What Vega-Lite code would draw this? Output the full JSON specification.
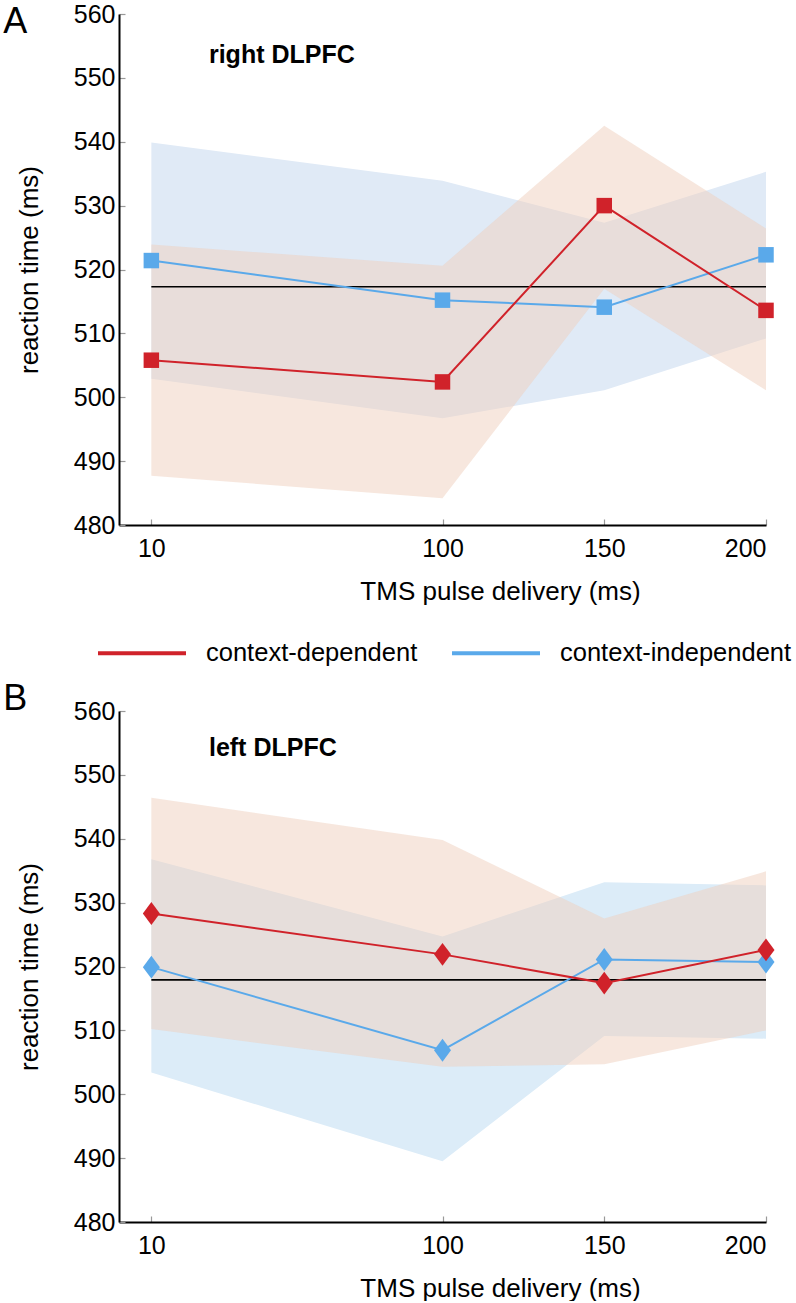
{
  "$schema": "https://vega.github.io/schema/vega-lite/v6.json",
  "padding": {"left": 3, "top": 2, "right": 0, "bottom": 0},
  "background": "white",
  "config": {
    "font": "Liberation Sans",
    "view": {"stroke": null},
    "axis": {"grid": false, "domainColor": "black", "domainWidth": 2, "tickColor": "#999999", "tickSize": -6, "tickWidth": 1.2, "labelColor": "black", "labelFontSize": 25, "titleFontSize": 26, "titleFontWeight": "normal", "titleColor": "black"},
    "legend": {"orient": "none", "legendX": -23, "legendY": 593, "direction": "horizontal", "symbolType": "stroke", "symbolSize": 7744, "symbolStrokeWidth": 4, "labelFontSize": 25.5, "labelOffset": 18, "labelLimit": 0, "columnPadding": 26, "labelColor": "black", "padding": 0}
  },
  "datasets": {
    "rt": [
      {"region": "right", "condition": "context-independent", "time": 10, "mean": 521.4, "lo": 502.9, "hi": 539.9},
      {"region": "right", "condition": "context-independent", "time": 100, "mean": 515.2, "lo": 496.7, "hi": 533.9},
      {"region": "right", "condition": "context-independent", "time": 150, "mean": 514.1, "lo": 501.1, "hi": 527.3},
      {"region": "right", "condition": "context-independent", "time": 200, "mean": 522.3, "lo": 509.2, "hi": 535.3},
      {"region": "right", "condition": "context-dependent", "time": 10, "mean": 505.8, "lo": 487.7, "hi": 523.9},
      {"region": "right", "condition": "context-dependent", "time": 100, "mean": 502.4, "lo": 484.2, "hi": 520.6},
      {"region": "right", "condition": "context-dependent", "time": 150, "mean": 530.0, "lo": 517.0, "hi": 542.5},
      {"region": "right", "condition": "context-dependent", "time": 200, "mean": 513.6, "lo": 501.1, "hi": 526.4},
      {"region": "left", "condition": "context-independent", "time": 10, "mean": 519.9, "lo": 503.4, "hi": 536.8},
      {"region": "left", "condition": "context-independent", "time": 100, "mean": 506.9, "lo": 489.5, "hi": 524.7},
      {"region": "left", "condition": "context-independent", "time": 150, "mean": 521.1, "lo": 509.1, "hi": 533.2},
      {"region": "left", "condition": "context-independent", "time": 200, "mean": 520.7, "lo": 508.7, "hi": 532.7},
      {"region": "left", "condition": "context-dependent", "time": 10, "mean": 528.3, "lo": 510.2, "hi": 546.4},
      {"region": "left", "condition": "context-dependent", "time": 100, "mean": 521.9, "lo": 504.3, "hi": 539.8},
      {"region": "left", "condition": "context-dependent", "time": 150, "mean": 517.4, "lo": 504.7, "hi": 527.5},
      {"region": "left", "condition": "context-dependent", "time": 200, "mean": 522.6, "lo": 510.0, "hi": 534.9}
    ],
    "ref": [
      {"region": "right", "baseline": 517.3},
      {"region": "left", "baseline": 517.9}
    ]
  },
  "spacing": 76,
  "vconcat": [
    {
      "width": 647,
      "height": 511,
      "layer": [
        {"data": {"name": "rt"}, "transform": [{"filter": "datum.region === 'right' && datum.condition === 'context-independent'"}], "mark": {"type": "area", "color": "#e0eaf6", "opacity": 1},
         "encoding": {
           "x": {"field": "time", "type": "quantitative", "scale": {"domain": [0, 200], "nice": false, "zero": false}, "title": "TMS pulse delivery (ms)", "axis": {"values": [10, 100, 150, 200], "labelPadding": 17, "titlePadding": 17, "titleX": 381}},
           "y": {"field": "lo", "type": "quantitative", "scale": {"domain": [480, 560], "nice": false, "zero": false}, "title": "reaction time (ms)", "axis": {"values": [480, 490, 500, 510, 520, 530, 540, 550, 560], "labelPadding": 10, "titlePadding": 31}},
           "y2": {"field": "hi"}}},
        {"data": {"name": "rt"}, "transform": [{"filter": "datum.region === 'right' && datum.condition === 'context-dependent'"}], "mark": {"type": "area", "color": "#efcfbd", "opacity": 0.5},
         "encoding": {
           "x": {"field": "time", "type": "quantitative", "scale": {"domain": [0, 200], "nice": false, "zero": false}, "title": "TMS pulse delivery (ms)"},
           "y": {"field": "lo", "type": "quantitative", "scale": {"domain": [480, 560], "nice": false, "zero": false}, "title": "reaction time (ms)"},
           "y2": {"field": "hi"}}},
        {"data": {"name": "ref"}, "transform": [{"filter": "datum.region === 'right'"}], "mark": {"type": "rule", "color": "black", "strokeWidth": 1.6},
         "encoding": {
           "x": {"datum": 10, "type": "quantitative", "scale": {"domain": [0, 200], "nice": false, "zero": false}, "title": "TMS pulse delivery (ms)"},
           "x2": {"datum": 200},
           "y": {"field": "baseline", "type": "quantitative", "scale": {"domain": [480, 560], "nice": false, "zero": false}, "title": "reaction time (ms)"}}},
        {"data": {"name": "rt"}, "transform": [{"filter": "datum.region === 'right'"}], "mark": {"type": "line", "strokeWidth": 2},
         "encoding": {
           "x": {"field": "time", "type": "quantitative", "scale": {"domain": [0, 200], "nice": false, "zero": false}, "title": "TMS pulse delivery (ms)"},
           "y": {"field": "mean", "type": "quantitative", "scale": {"domain": [480, 560], "nice": false, "zero": false}, "title": "reaction time (ms)"},
           "color": {"field": "condition", "type": "nominal", "scale": {"domain": ["context-dependent", "context-independent"], "range": ["#d0222a", "#5aa9ea"]}, "legend": {"title": null}}}},
        {"data": {"name": "rt"}, "transform": [{"filter": "datum.region === 'right'"}], "mark": {"type": "point", "shape": "square", "filled": true, "size": 240, "opacity": 1},
         "encoding": {
           "x": {"field": "time", "type": "quantitative", "scale": {"domain": [0, 200], "nice": false, "zero": false}, "title": "TMS pulse delivery (ms)"},
           "y": {"field": "mean", "type": "quantitative", "scale": {"domain": [480, 560], "nice": false, "zero": false}, "title": "reaction time (ms)"},
           "fill": {"field": "condition", "type": "nominal", "scale": {"domain": ["context-dependent", "context-independent"], "range": ["#d0222a", "#5aa9ea"]}, "legend": null}}},
        {"data": {"values": [{"label": "right DLPFC"}]}, "mark": {"type": "text", "fontWeight": "bold", "fontSize": 25, "align": "left", "baseline": "alphabetic", "color": "black"},
         "encoding": {
           "x": {"datum": 27.8, "type": "quantitative", "scale": {"domain": [0, 200], "nice": false, "zero": false}, "title": "TMS pulse delivery (ms)"},
           "y": {"datum": 552.3, "type": "quantitative", "scale": {"domain": [480, 560], "nice": false, "zero": false}, "title": "reaction time (ms)"},
           "text": {"field": "label"}}},
        {"data": {"values": [{"label": "A"}]}, "mark": {"type": "text", "fontSize": 36, "align": "left", "baseline": "alphabetic", "color": "black"},
         "encoding": {
           "x": {"datum": -35.8, "type": "quantitative", "scale": {"domain": [0, 200], "nice": false, "zero": false}, "title": "TMS pulse delivery (ms)"},
           "y": {"datum": 557, "type": "quantitative", "scale": {"domain": [480, 560], "nice": false, "zero": false}, "title": "reaction time (ms)"},
           "text": {"field": "label"}}}
      ]
    },
    {
      "width": 647,
      "height": 511,
      "layer": [
        {"data": {"name": "rt"}, "transform": [{"filter": "datum.region === 'left' && datum.condition === 'context-independent'"}], "mark": {"type": "area", "color": "#dcecf8", "opacity": 1},
         "encoding": {
           "x": {"field": "time", "type": "quantitative", "scale": {"domain": [0, 200], "nice": false, "zero": false}, "title": "TMS pulse delivery (ms)", "axis": {"values": [10, 100, 150, 200], "labelPadding": 17, "titlePadding": 17, "titleX": 381}},
           "y": {"field": "lo", "type": "quantitative", "scale": {"domain": [480, 560], "nice": false, "zero": false}, "title": "reaction time (ms)", "axis": {"values": [480, 490, 500, 510, 520, 530, 540, 550, 560], "labelPadding": 10, "titlePadding": 31}},
           "y2": {"field": "hi"}}},
        {"data": {"name": "rt"}, "transform": [{"filter": "datum.region === 'left' && datum.condition === 'context-dependent'"}], "mark": {"type": "area", "color": "#efcfbd", "opacity": 0.5},
         "encoding": {
           "x": {"field": "time", "type": "quantitative", "scale": {"domain": [0, 200], "nice": false, "zero": false}, "title": "TMS pulse delivery (ms)"},
           "y": {"field": "lo", "type": "quantitative", "scale": {"domain": [480, 560], "nice": false, "zero": false}, "title": "reaction time (ms)"},
           "y2": {"field": "hi"}}},
        {"data": {"name": "ref"}, "transform": [{"filter": "datum.region === 'left'"}], "mark": {"type": "rule", "color": "black", "strokeWidth": 1.6},
         "encoding": {
           "x": {"datum": 10, "type": "quantitative", "scale": {"domain": [0, 200], "nice": false, "zero": false}, "title": "TMS pulse delivery (ms)"},
           "x2": {"datum": 200},
           "y": {"field": "baseline", "type": "quantitative", "scale": {"domain": [480, 560], "nice": false, "zero": false}, "title": "reaction time (ms)"}}},
        {"data": {"name": "rt"}, "transform": [{"filter": "datum.region === 'left'"}], "mark": {"type": "line", "strokeWidth": 2},
         "encoding": {
           "x": {"field": "time", "type": "quantitative", "scale": {"domain": [0, 200], "nice": false, "zero": false}, "title": "TMS pulse delivery (ms)"},
           "y": {"field": "mean", "type": "quantitative", "scale": {"domain": [480, 560], "nice": false, "zero": false}, "title": "reaction time (ms)"},
           "color": {"field": "condition", "type": "nominal", "scale": {"domain": ["context-dependent", "context-independent"], "range": ["#d0222a", "#5aa9ea"]}, "legend": {"title": null}}}},
        {"data": {"name": "rt"}, "transform": [{"filter": "datum.region === 'left'"}], "mark": {"type": "point", "shape": "M0,-1.35L1,0L0,1.35L-1,0Z", "filled": true, "size": 289, "opacity": 1},
         "encoding": {
           "x": {"field": "time", "type": "quantitative", "scale": {"domain": [0, 200], "nice": false, "zero": false}, "title": "TMS pulse delivery (ms)"},
           "y": {"field": "mean", "type": "quantitative", "scale": {"domain": [480, 560], "nice": false, "zero": false}, "title": "reaction time (ms)"},
           "fill": {"field": "condition", "type": "nominal", "scale": {"domain": ["context-dependent", "context-independent"], "range": ["#d0222a", "#5aa9ea"]}, "legend": null}}},
        {"data": {"values": [{"label": "left DLPFC"}]}, "mark": {"type": "text", "fontWeight": "bold", "fontSize": 25, "align": "left", "baseline": "alphabetic", "color": "black"},
         "encoding": {
           "x": {"datum": 27.8, "type": "quantitative", "scale": {"domain": [0, 200], "nice": false, "zero": false}, "title": "TMS pulse delivery (ms)"},
           "y": {"datum": 552.9, "type": "quantitative", "scale": {"domain": [480, 560], "nice": false, "zero": false}, "title": "reaction time (ms)"},
           "text": {"field": "label"}}},
        {"data": {"values": [{"label": "B"}]}, "mark": {"type": "text", "fontSize": 36, "align": "left", "baseline": "alphabetic", "color": "black"},
         "encoding": {
           "x": {"datum": -35.8, "type": "quantitative", "scale": {"domain": [0, 200], "nice": false, "zero": false}, "title": "TMS pulse delivery (ms)"},
           "y": {"datum": 560.2, "type": "quantitative", "scale": {"domain": [480, 560], "nice": false, "zero": false}, "title": "reaction time (ms)"},
           "text": {"field": "label"}}}
      ]
    }
  ]
}
